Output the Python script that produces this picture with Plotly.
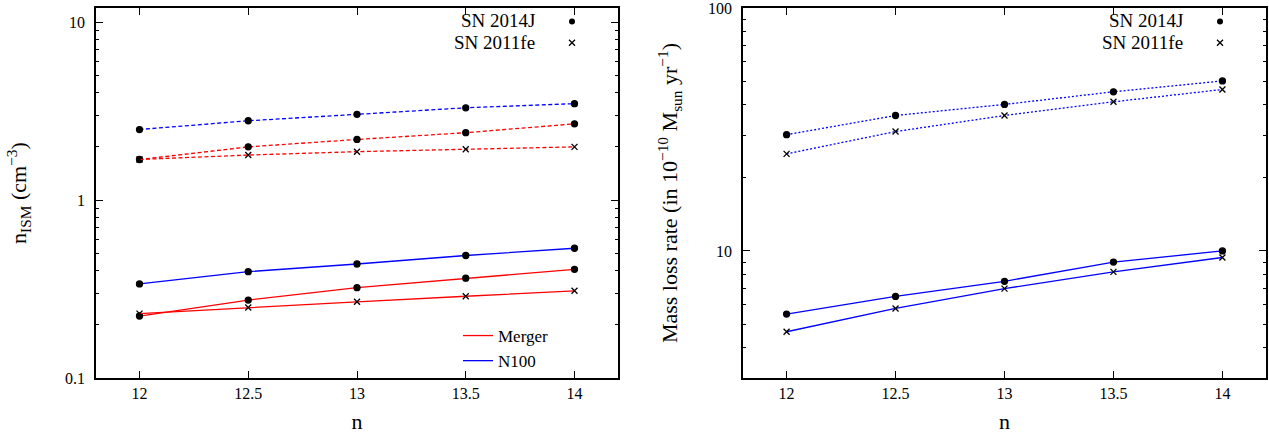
import plotly.graph_objects as go

# ---------------- data ----------------
n_vals = [12, 12.5, 13, 13.5, 14]
x_ticks = [12, 12.5, 13, 13.5, 14]
x_tick_text = ["12", "12.5", "13", "13.5", "14"]

# Left panel: n_ISM (cm^-3)
nism_merger_14J_solid = [0.223, 0.274, 0.322, 0.364, 0.408]
nism_merger_11fe_solid = [0.230, 0.249, 0.268, 0.288, 0.309]
nism_n100_14J_solid = [0.338, 0.396, 0.437, 0.488, 0.536]
nism_merger_14J_dash = [1.69, 1.99, 2.19, 2.39, 2.68]
nism_merger_11fe_dash = [1.69, 1.79, 1.87, 1.93, 1.99]
nism_n100_14J_dash = [2.49, 2.79, 3.03, 3.30, 3.48]

# Right panel: mass loss rate (1e-10 Msun/yr)
mlr_14J_solid = [5.5, 6.5, 7.5, 9.0, 10.0]
mlr_11fe_solid = [4.65, 5.8, 7.0, 8.2, 9.4]
mlr_14J_dot = [30.1, 36.1, 40.1, 45.2, 50.1]
mlr_11fe_dot = [25.1, 31.0, 36.1, 41.1, 46.2]

left_major = [0.1, 1, 10]
left_major_text = ["0.1", "1", "10"]
left_minor = [0.2, 0.3, 0.4, 0.5, 0.6, 0.7, 0.8, 0.9, 2, 3, 4, 5, 6, 7, 8, 9]
right_major = [10, 100]
right_major_text = ["10", "100"]
right_minor = [4, 5, 6, 7, 8, 9, 20, 30, 40, 50, 60, 70, 80, 90]

sn_labels = ["SN 2014J", "SN 2011fe"]
model_labels = ["Merger", "N100"]

RED = "#ff0000"
BLUE = "#0000ff"
FONT = "Liberation Serif"
W, H = 1269, 434

fig = go.Figure()


def add(x, y, color, dash, symbol, xa, ya):
    fig.add_trace(go.Scatter(
        x=x, y=y, mode="lines+markers", xaxis=xa, yaxis=ya,
        line=dict(color=color, width=1.3, dash=dash),
        marker=dict(color="black", size=6, symbol=symbol,
                    line=dict(color="black", width=1.3)),
        showlegend=False, hoverinfo="skip"))


DASH = "4px,2.5px"
DOT = "2px,2px"
# left panel
add(n_vals, nism_merger_14J_dash, RED, DASH, "circle", "x", "y")
add(n_vals, nism_merger_11fe_dash, RED, DASH, "x-thin", "x", "y")
add(n_vals, nism_n100_14J_dash, BLUE, DASH, "circle", "x", "y")
add(n_vals, nism_merger_14J_solid, RED, "solid", "circle", "x", "y")
add(n_vals, nism_merger_11fe_solid, RED, "solid", "x-thin", "x", "y")
add(n_vals, nism_n100_14J_solid, BLUE, "solid", "circle", "x", "y")

# right panel
add(n_vals, mlr_14J_dot, BLUE, DOT, "circle", "x2", "y2")
add(n_vals, mlr_11fe_dot, BLUE, DOT, "x-thin", "x2", "y2")
add(n_vals, mlr_14J_solid, BLUE, "solid", "circle", "x2", "y2")
add(n_vals, mlr_11fe_solid, BLUE, "solid", "x-thin", "x2", "y2")

# key samples (symbol to the right of the label, gnuplot style)
for lg, xa, ya in [("legend", "x", "y"), ("legend3", "x2", "y2")]:
    fig.add_trace(go.Scatter(x=[None], y=[None], mode="markers", name=" ",
                             marker=dict(color="black", size=6, symbol="circle"),
                             legend=lg, xaxis=xa, yaxis=ya, hoverinfo="skip"))
    fig.add_trace(go.Scatter(x=[None], y=[None], mode="markers", name=" ",
                             marker=dict(color="black", size=6, symbol="x-thin",
                                         line=dict(color="black", width=1.3)),
                             legend=lg, xaxis=xa, yaxis=ya, hoverinfo="skip"))
fig.add_trace(go.Scatter(x=[None], y=[None], mode="lines", name=model_labels[0],
                         line=dict(color=RED, width=1.3), legend="legend2"))
fig.add_trace(go.Scatter(x=[None], y=[None], mode="lines", name=model_labels[1],
                         line=dict(color=BLUE, width=1.3), legend="legend2"))

# key labels
for xr in [537, 1185]:
    for i, (lab, yp) in enumerate(zip(sn_labels, [21, 42])):
        fig.add_annotation(text=lab, xref="paper", yref="paper",
                           x=xr / W, y=1 - yp / H, xanchor="right", yanchor="middle",
                           showarrow=False, font=dict(family=FONT, size=19, color="black"))

axis_common = dict(showline=True, linecolor="black", linewidth=1.5, mirror="ticks",
                   ticks="inside", ticklen=7, tickwidth=1, tickcolor="black",
                   showgrid=False, zeroline=False, automargin=False,
                   ticklabeloverflow="allow",
                   tickfont=dict(family=FONT, size=16, color="black"))

ytop = 1 - 8 / H
ybot = 1 - 378 / H
TFONT = dict(family=FONT, size=22, color="black")

fig.update_layout(
    width=W, height=H,
    margin=dict(l=0, r=0, t=0, b=0, autoexpand=False),
    paper_bgcolor="white", plot_bgcolor="white",
    font=dict(family=FONT, color="black"),
    xaxis=dict(domain=[96 / W, 618 / W], range=[11.8, 14.2],
               tickvals=x_ticks, ticktext=x_tick_text, anchor="y",
               title=dict(text="n", font=TFONT, standoff=21),
               **axis_common),
    yaxis=dict(domain=[ybot, ytop], type="log", range=[-1, 1.0792], anchor="x",
               tickvals=left_major, ticktext=left_major_text, ticklabelstandoff=6,
               minor=dict(tickvals=left_minor, ticks="inside", ticklen=3.5,
                          tickcolor="black", tickwidth=1, showgrid=False),
               title=dict(text="n<sub>ISM</sub> (cm<sup>\u22123</sup>)",
                          font=TFONT, standoff=32),
               **axis_common),
    xaxis2=dict(domain=[743 / W, 1266 / W], range=[11.8, 14.2],
                tickvals=x_ticks, ticktext=x_tick_text, anchor="y2",
                title=dict(text="n", font=TFONT, standoff=21),
                **axis_common),
    yaxis2=dict(domain=[ybot, ytop], type="log", range=[0.4771, 2], anchor="x2",
                tickvals=right_major, ticktext=right_major_text, ticklabelstandoff=6,
                minor=dict(tickvals=right_minor, ticks="inside", ticklen=3.5,
                           tickcolor="black", tickwidth=1, showgrid=False),
                title=dict(text="Mass loss rate (in 10<sup>\u221210</sup> M<sub>sun</sub> yr<sup>\u22121</sup>)",
                           font=TFONT, standoff=24),
                **axis_common),
    legend=dict(x=(572 - 20) / W, xanchor="left", y=1 - 6 / H, yanchor="top",
                bgcolor="rgba(0,0,0,0)", font=dict(family=FONT, size=14),
                tracegroupgap=0, borderwidth=0),
    legend2=dict(x=458 / W, xanchor="left", y=1 - 318 / H, yanchor="top",
                 bgcolor="rgba(0,0,0,0)", font=dict(family=FONT, size=17),
                 tracegroupgap=0, borderwidth=0),
    legend3=dict(x=(1220 - 20) / W, xanchor="left", y=1 - 6 / H, yanchor="top",
                 bgcolor="rgba(0,0,0,0)", font=dict(family=FONT, size=14),
                 tracegroupgap=0, borderwidth=0),
)

fig.write_html("out.html", config={"displayModeBar": False},
               post_script="document.body.style.margin='0';document.body.style.overflow='hidden';")
